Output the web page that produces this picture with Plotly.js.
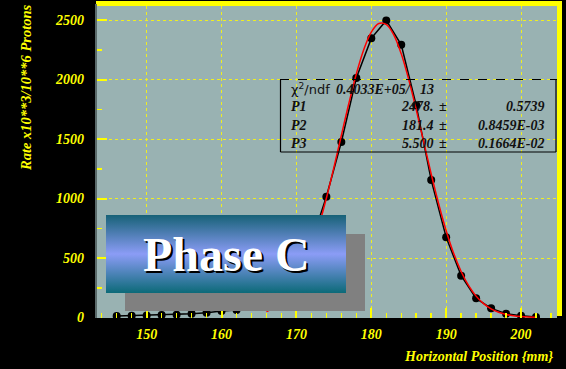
<!DOCTYPE html>
<html>
<head>
<meta charset="utf-8">
<script src="https://cdn.plot.ly/plotly-3.0.1.min.js"></script>
<style>html,body{margin:0;padding:0;background:#000;}#chart{width:566px;height:369px;}</style>
</head>
<body>
<div id="chart"></div>
<script>
// ---- data ----
var dataX = [146,148,150,152,154,156,158,160,162,164,166,168,170,172,174,176,178,180,182,184,186,188,190,192,194,196,198,200,202];
var dataY = [12,15,18,21,24,32,40,55,63,110,170,260,400,630,1015,1475,2013,2346,2497,2292,1783,1155,674,351,161,77,32,15,5];
var fitX = [166,167,168,169,170,171,172,173,174,175,176,177,178,179,180,181,182,183,184,185,186,187,188,189,190,191,192,193,194,195,196,197,198,199,200,201,202];
var fitY = [49,81,127,195,289,415,575,772,1002,1259,1530,1799,2047,2253,2399,2471,2463,2375,2216,2000,1747,1476,1206,954,730,540,387,268,180,117,73,44,26,15,8,4,2];
var xTickVals = [150,160,170,180,190,200];
var yTickVals = [0,500,1000,1500,2000,2500];
var statRows = [
  ["P1", "2478.", "0.5739"],
  ["P2", "181.4", "0.8459E-03"],
  ["P3", "5.500", "0.1664E-02"]
];
var chi2Text = "0.4033E+05/";
var ndfText = "13";
var labelText = "Phase C";
var xTitle = "Horizontal Position {mm}";
var yTitle = "Rate x10**3/10**6 Protons";

// ---- pixel helpers (plot area: x 97..557, y 6..318) ----
var L = 97, R = 557, T = 6, B = 318;
function px(x){ return (x - L) / (R - L); }
function py(y){ return (B - y) / (B - T); }

// ---- gradient box + shadow image ----
var cv = document.createElement('canvas');
cv.width = 259; cv.height = 96;
var ctx = cv.getContext('2d');
ctx.fillStyle = '#808080';
ctx.fillRect(19, 19, 240, 77);
var g = ctx.createLinearGradient(0, 0, 0, 78);
g.addColorStop(0, '#176277');
g.addColorStop(0.5, '#8b9cf6');
g.addColorStop(1, '#0c6a78');
ctx.fillStyle = g;
ctx.fillRect(0, 0, 240, 78);
var boxImg = cv.toDataURL('image/png');

var yellow = '#ffff00';
var serifBI = {family: 'Liberation Serif, Times New Roman, serif', color: yellow, size: 14, weight: 'bold', style: 'italic'};

var traces = [
  {x: dataX, y: dataY, type: 'scatter', mode: 'lines+markers',
   line: {color: '#000', width: 1.5}, marker: {color: '#000', size: 8}, hoverinfo: 'none'},
  {x: fitX, y: fitY, type: 'scatter', mode: 'lines', line: {color: '#ff0000', width: 1.5, shape: 'spline'}, hoverinfo: 'none'}
];

var sf = {family: 'Liberation Serif, Times New Roman, serif', color: '#111', size: 14, weight: 'bold', style: 'italic'};
var annotations = [
  {xref: 'paper', yref: 'paper', x: px(26), y: py(88), xanchor: 'center', yanchor: 'middle', textangle: -90,
   text: yTitle, showarrow: false, font: Object.assign({}, serifBI, {size: 14.5})},
  {xref: 'paper', yref: 'paper', x: px(555), y: py(356), xanchor: 'right', yanchor: 'middle',
   text: xTitle, showarrow: false, font: serifBI},
  {xref: 'paper', yref: 'paper', x: px(289), y: py(89), xanchor: 'left', yanchor: 'middle',
   text: 'χ<sup>2</sup>/ndf', showarrow: false, font: {family: 'DejaVu Sans, sans-serif', size: 13, color: '#111'}},
  {xref: 'paper', yref: 'paper', x: px(334), y: py(89), xanchor: 'left', yanchor: 'middle',
   text: chi2Text, showarrow: false, font: sf},
  {xref: 'paper', yref: 'paper', x: px(436), y: py(89), xanchor: 'right', yanchor: 'middle',
   text: ndfText, showarrow: false, font: sf}
];
var rowY = [107, 125, 143];
statRows.forEach(function(r, i){
  annotations.push({xref: 'paper', yref: 'paper', x: px(289), y: py(rowY[i]), xanchor: 'left', yanchor: 'middle', text: r[0], showarrow: false, font: sf});
  annotations.push({xref: 'paper', yref: 'paper', x: px(436), y: py(rowY[i]), xanchor: 'right', yanchor: 'middle', text: r[1], showarrow: false, font: sf});
  annotations.push({xref: 'paper', yref: 'paper', x: px(443), y: py(rowY[i]), xanchor: 'center', yanchor: 'middle', text: '±', showarrow: false, font: Object.assign({}, sf, {style: 'normal'})});
  annotations.push({xref: 'paper', yref: 'paper', x: px(547), y: py(rowY[i]), xanchor: 'right', yanchor: 'middle', text: r[2], showarrow: false, font: sf});
});
var phaseFont = {family: 'Liberation Serif, Times New Roman, serif', size: 48, weight: 'bold'};
annotations.push({xref: 'paper', yref: 'paper', x: px(226), y: py(254), xanchor: 'center', yanchor: 'middle', xshift: 2, yshift: -2,
  text: labelText, showarrow: false, font: Object.assign({}, phaseFont, {color: '#000'})});
annotations.push({xref: 'paper', yref: 'paper', x: px(226), y: py(254), xanchor: 'center', yanchor: 'middle',
  text: labelText, showarrow: false, font: Object.assign({}, phaseFont, {color: '#ffffff'})});

var shapes = [
  // yellow frame top and right
  {type: 'rect', xref: 'paper', yref: 'paper', x0: px(96), x1: px(562), y0: py(6), y1: py(1), fillcolor: yellow, line: {width: 0}},
  {type: 'rect', xref: 'paper', yref: 'paper', x0: px(557), x1: px(562), y0: py(316), y1: py(1), fillcolor: yellow, line: {width: 0}},
  {type: 'rect', xref: 'paper', yref: 'paper', x0: px(95), x1: px(97), y0: py(318), y1: py(4), fillcolor: '#5a6a6a', line: {width: 0}},
  // stats box
  {type: 'line', xref: 'paper', yref: 'paper', x0: px(280), x1: px(557), y0: py(79.5), y1: py(79.5), line: {color: '#000', width: 1, dash: 'dash'}},
  {type: 'line', xref: 'paper', yref: 'paper', x0: px(280.5), x1: px(280.5), y0: py(79.5), y1: py(152), line: {color: '#000', width: 1.2}},
  {type: 'line', xref: 'paper', yref: 'paper', x0: px(556), x1: px(556), y0: py(79.5), y1: py(152), line: {color: '#000', width: 1.2}},
  {type: 'line', xref: 'paper', yref: 'paper', x0: px(280.5), x1: px(556), y0: py(152), y1: py(152), line: {color: '#000', width: 1.2}}
];

var layout = {
  width: 566, height: 369,
  margin: {l: L, r: 566 - R, t: T, b: 369 - B, pad: 0},
  paper_bgcolor: '#000000',
  plot_bgcolor: '#99b2b2',
  showlegend: false,
  xaxis: {range: [143.37, 204.8], tickvals: xTickVals, ticks: 'inside', ticklen: 10, tickwidth: 2, tickcolor: yellow,
    showgrid: true, gridcolor: '#eeee22', griddash: 'dot', gridwidth: 1, zeroline: false, showline: false,
    tickfont: serifBI, ticklabelstandoff: 6,
    minor: {dtick: 2, tick0: 0, ticks: 'inside', ticklen: 5, tickwidth: 1.5, tickcolor: yellow, showgrid: false}},
  yaxis: {range: [-4, 2618], tickvals: yTickVals, ticks: 'inside', ticklen: 10, tickwidth: 2, tickcolor: yellow,
    showgrid: true, gridcolor: '#eeee22', griddash: 'dot', gridwidth: 1, zeroline: false, showline: false,
    tickfont: serifBI, ticklabelstandoff: 12,
    minor: {dtick: 250, tick0: 0, ticks: 'inside', ticklen: 5, tickwidth: 1.5, tickcolor: yellow, showgrid: false}},
  shapes: shapes,
  annotations: annotations,
  images: [{source: boxImg, xref: 'paper', yref: 'paper', x: px(106), y: py(215), sizex: px(365) - px(106), sizey: py(215) - py(311),
    xanchor: 'left', yanchor: 'top', sizing: 'stretch', layer: 'above'}]
};

Plotly.newPlot('chart', traces, layout, {staticPlot: true, displayModeBar: false});
</script>
</body>
</html>
